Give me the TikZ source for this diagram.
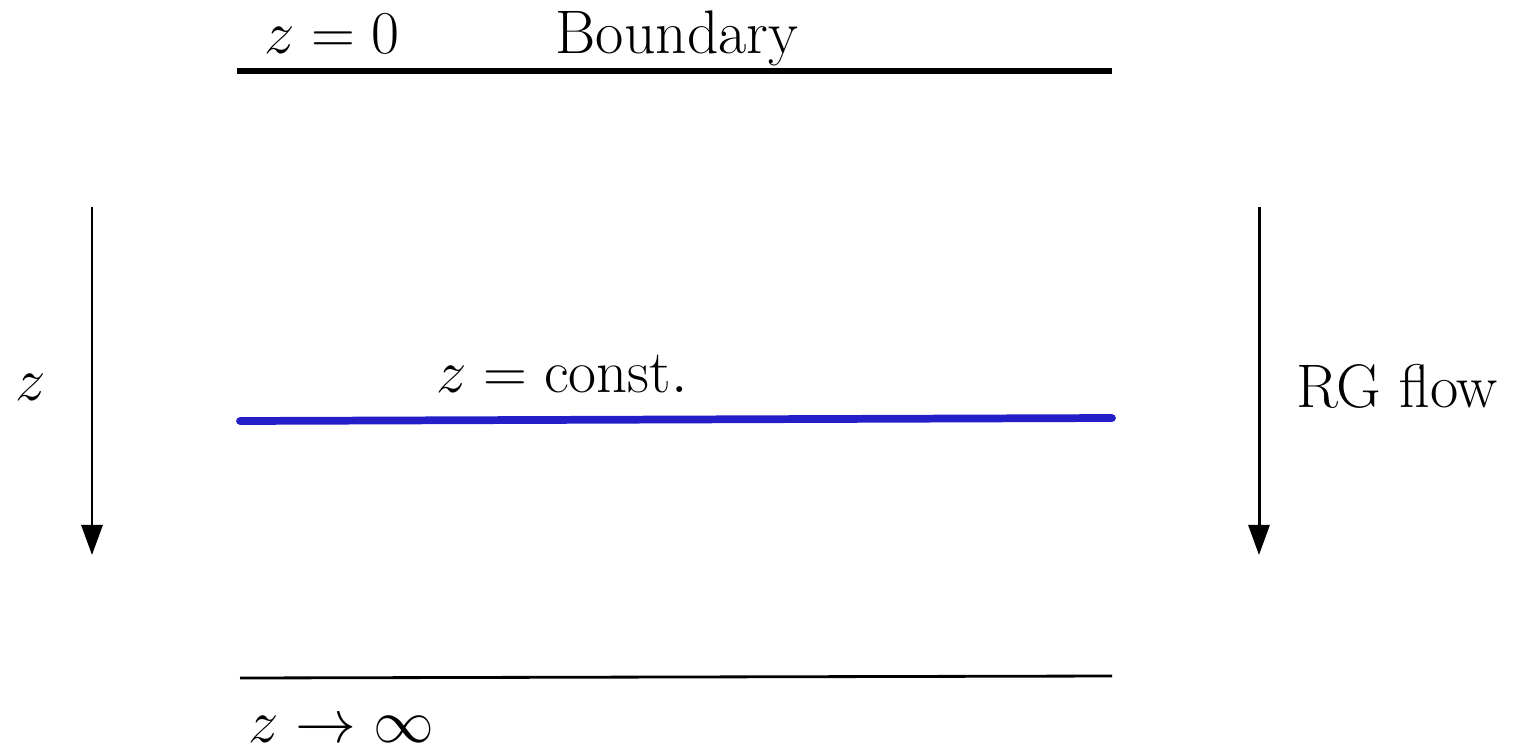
\documentclass[tikz,border=0pt]{standalone}
\usetikzlibrary{arrows.meta}
\definecolor{constblue}{RGB}{36,30,200}
\begin{document}
\begin{tikzpicture}[x=0.01cm,y=-0.01cm,
  lbl/.style={inner sep=0pt,anchor=base,font=\fontsize{17.5}{21}\selectfont},
  flowarrow/.style={line width=0.85pt,-{Triangle[length=0.3cm,width=0.21cm]}},
  boundaryline/.style={line width=1.5pt},
  deepline/.style={line width=0.8pt},
  constline/.style={line width=2.2pt,constblue,line cap=round}]
\useasboundingbox (0,0) rectangle (1517,751);
% lines
\coordinate (b1) at (237,71);  \coordinate (b2) at (1112,71);
\coordinate (c1) at (240,421); \coordinate (c2) at (1112,418);
\coordinate (d1) at (240,678); \coordinate (d2) at (1112,676);
\draw[boundaryline] (b1) -- (b2);
\draw[constline] (c1) -- (c2);
\draw[deepline] (d1) -- (d2);
% arrows
\coordinate (la1) at (92,207);   \coordinate (la2) at (92,555);
\coordinate (ra1) at (1259,207); \coordinate (ra2) at (1259,555);
\draw[flowarrow] (la1) -- (la2);
\draw[flowarrow] (ra1) -- (ra2);
% labels
\node[lbl] (z0) at (332,53) {$z=0$};
\node[lbl] (bd) at (677,53) {Boundary};
\node[lbl] (zc) at (562,392) {$z=\mathrm{const.}$};
\node[lbl] (zl) at (31,400) {$z$};
\node[lbl] (rg) at (1397,407) {RG flow};
\node[lbl] (zi) at (341,742) {$z\to\infty$};
\end{tikzpicture}
\end{document}
